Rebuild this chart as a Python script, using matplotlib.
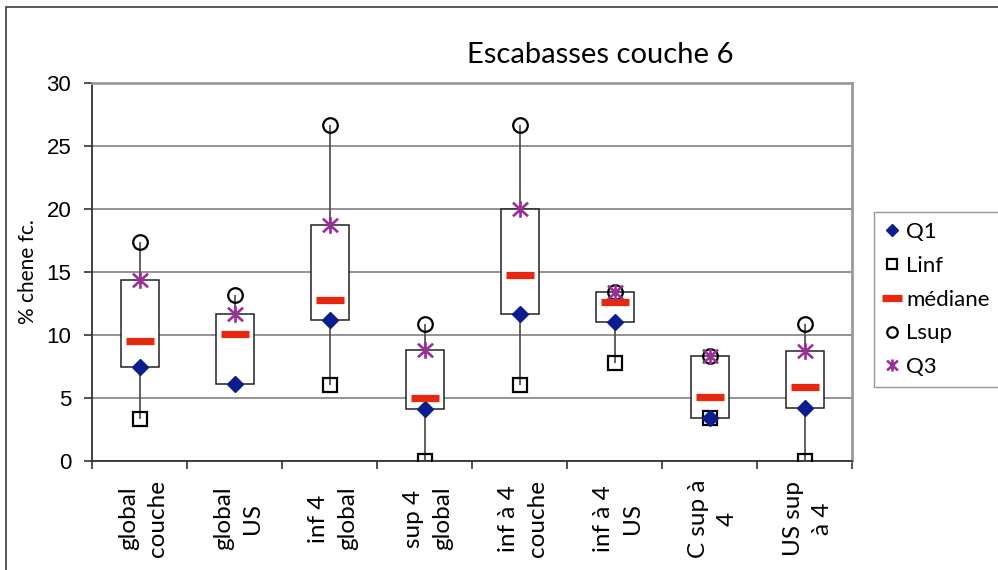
import numpy as np
import matplotlib
matplotlib.use('Agg')
import matplotlib.pyplot as plt
from matplotlib.path import Path
from matplotlib.patches import Rectangle
from matplotlib.lines import Line2D

# data
categories = ["global\ncouche", "global\nUS", "inf 4\nglobal", "sup 4\nglobal",
              "inf à 4\ncouche", "inf à 4\nUS", "C sup à\n4", "US sup\nà 4"]
q1 = [7.5, 6.1, 11.2, 4.1, 11.7, 11.0, 3.4, 4.2]
linf = [3.3, np.nan, 6.0, 0.0, 6.0, 7.8, 3.4, 0.0]
mediane = [9.55, 10.1, 12.8, 5.0, 14.8, 12.65, 5.05, 5.85]
lsup = [17.4, 13.15, 26.7, 10.85, 26.7, 13.4, 8.3, 10.85]
q3 = [14.4, 11.7, 18.7, 8.8, 20.0, 13.4, 8.3, 8.75]

title = "Escabasses couche 6"
ylabel = "% chene fc."


def star_marker():
    # X plus vertical bar, like the spreadsheet "star" marker
    verts = [(-1, -0.9), (1, 0.9), (-1, 0.9), (1, -0.9), (0, -1.1), (0, 1.1)]
    codes = [Path.MOVETO, Path.LINETO] * 3
    return Path(verts, codes)


def main():
    fig = plt.figure(figsize=(9.98, 5.70), dpi=100)
    ax = fig.add_axes([92 / 998, 109 / 570, 760 / 998, 378 / 570])

    x = np.arange(len(categories))
    q1_a, q3_a = np.array(q1), np.array(q3)
    linf_a, lsup_a = np.array(linf), np.array(lsup)

    # gridlines
    ax.set_ylim(0, 30)
    ax.set_xlim(-0.5, len(categories) - 0.5)
    ax.set_yticks(range(0, 31, 5))
    ax.yaxis.grid(True, color='#8a8a8a', lw=1.3, zorder=0)
    ax.set_axisbelow(True)

    # whiskers
    ok = ~np.isnan(linf_a)
    ax.vlines(x[ok], linf_a[ok], q1_a[ok], color='#555555', lw=1.3, zorder=2)
    ax.vlines(x, q3_a, lsup_a, color='#555555', lw=1.3, zorder=2)

    # boxes
    bw = 0.4
    for xi, lo, hi in zip(x, q1_a, q3_a):
        ax.add_patch(Rectangle((xi - bw / 2, lo), bw, hi - lo, facecolor='white',
                               edgecolor='#222222', lw=1.1, zorder=3))

    ax.plot(x, linf, ls='none', marker='s', ms=9.5, mfc='none', mec='black', mew=1.6,
            zorder=4, label='Linf')
    ax.plot(x, q1, ls='none', marker='D', ms=8, color='#0b1e8e', zorder=5, label='Q1')
    ax.plot(x, mediane, ls='none', marker='_', ms=19.5, mew=5.2, color='#e8280c',
            zorder=5, label='médiane')
    ax.plot(x, lsup, ls='none', marker='o', ms=10.5, mfc='none', mec='black', mew=1.6,
            zorder=4, label='Lsup')
    ax.plot(x, q3, ls='none', marker=star_marker(), ms=12, mec='#9b2e9b', mew=1.9,
            zorder=6, label='Q3')

    # axes styling
    for s in ['left', 'bottom']:
        ax.spines[s].set_color('#333333')
        ax.spines[s].set_linewidth(1.3)
    for s in ['top', 'right']:
        ax.spines[s].set_color('#9a9a9a')
        ax.spines[s].set_linewidth(2)
    ax.tick_params(axis='y', direction='out', length=6, width=1.2, color='#333333',
                   pad=9, labelsize=16)
    for t in ax.get_yticklabels():
        t.set_family('Liberation Sans')
    ax.set_xticks(np.arange(-0.5, len(categories), 1.0))
    ax.set_xticklabels([])
    ax.tick_params(axis='x', direction='out', length=6, width=1.2, color='#333333')
    for xi, lab in zip(x, categories):
        ax.text(xi + 0.04, -0.152, lab, transform=ax.get_xaxis_transform(), rotation=90,
                ha='center', va='center', multialignment='center', fontsize=17.5,
                family='Lato', linespacing=1.45)

    fig.text(600 / 998, 1 - 55 / 570, title, ha='center', va='center',
             fontsize=21, family='Lato')
    fig.text(28 / 998, 1 - 272 / 570, ylabel, rotation=90, ha='center', va='center',
             fontsize=15, family='Lato')

    # legend in spreadsheet order
    h = {l.get_label(): l for l in ax.get_lines()}
    order = ['Q1', 'Linf', 'médiane', 'Lsup', 'Q3']
    handles = []
    for name in order:
        ln = h[name]
        handles.append(Line2D([], [], ls='none', marker=ln.get_marker(),
                              ms=ln.get_markersize() * 0.72, mfc=ln.get_markerfacecolor(),
                              mec=ln.get_markeredgecolor(), mew=ln.get_markeredgewidth()))
    leg = fig.legend(handles, order, loc='upper left', bbox_to_anchor=(874 / 998, 1 - 212 / 570),
                     prop={'family': 'Lato', 'size': 16}, frameon=True, fancybox=False,
                     handlelength=0.7, handletextpad=0.3, labelspacing=0.62,
                     borderpad=0.45, borderaxespad=0)
    leg.get_frame().set_edgecolor('#808080')
    leg.get_frame().set_linewidth(1.0)

    # outer chart border
    fig.patches.append(Rectangle((6 / 998, -0.1), 1.2, 1.1 - 7 / 570, transform=fig.transFigure,
                                 fill=False, edgecolor='#3a3a3a', lw=1.2))

    fig.savefig('out.png', dpi=100)


if __name__ == "__main__":
    main()
